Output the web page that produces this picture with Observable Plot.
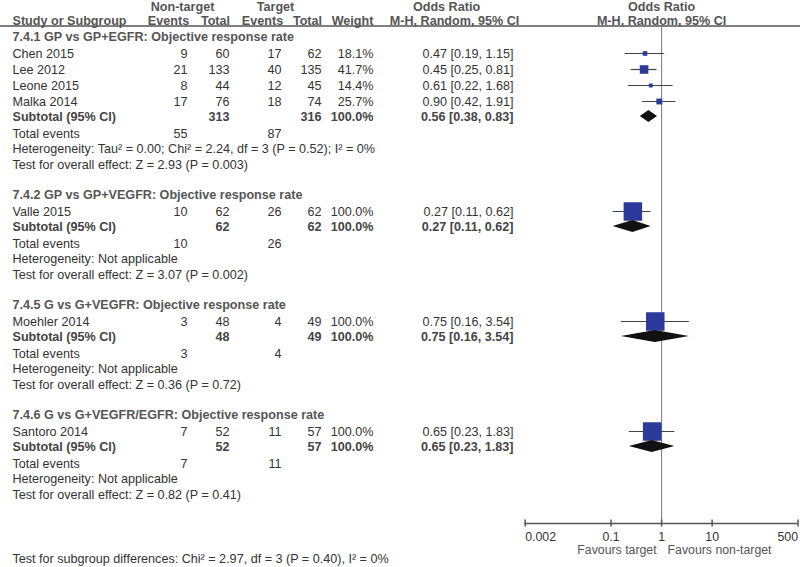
<!DOCTYPE html>
<html>
<head>
<meta charset="utf-8">
<script src="https://cdn.jsdelivr.net/npm/d3@7"></script>
<script src="https://cdn.jsdelivr.net/npm/@observablehq/plot@0.6"></script>
<style>
  html, body { margin: 0; padding: 0; background: #fff; }
</style>
</head>
<body>
<div id="chart"></div>
<script>
// ---------- Data ----------
const groupTitles = [
  "7.4.1 GP vs GP+EGFR: Objective response rate",
  "7.4.2 GP vs GP+VEGFR: Objective response rate",
  "7.4.5 G vs G+VEGFR: Objective response rate",
  "7.4.6 G vs G+VEGFR/EGFR: Objective response rate"
];
const studies    = ["Chen 2015", "Lee 2012", "Leone 2015", "Malka 2014", "Valle 2015", "Moehler 2014", "Santoro 2014"];
const studyGroup = [0, 0, 0, 0, 1, 2, 3];
const ntEvents   = [9, 21, 8, 17, 10, 3, 7];
const ntTotal    = [60, 133, 44, 76, 62, 48, 52];
const tEvents    = [17, 40, 12, 18, 26, 4, 11];
const tTotal     = [62, 135, 45, 74, 62, 49, 57];
const weights    = [18.1, 41.7, 14.4, 25.7, 100.0, 100.0, 100.0];
const orEst      = [0.47, 0.45, 0.61, 0.90, 0.27, 0.75, 0.65];
const orLo       = [0.19, 0.25, 0.22, 0.42, 0.11, 0.16, 0.23];
const orHi       = [1.15, 0.81, 1.68, 1.91, 0.62, 3.54, 1.83];

const subNtTotal = [313, 62, 48, 52];
const subTTotal  = [316, 62, 49, 57];
const subWeight  = [100.0, 100.0, 100.0, 100.0];
const subEst     = [0.56, 0.27, 0.75, 0.65];
const subLo      = [0.38, 0.11, 0.16, 0.23];
const subHi      = [0.83, 0.62, 3.54, 1.83];
const totNtEvents = [55, 10, 3, 7];
const totTEvents  = [87, 26, 4, 11];
const heterogeneity = [
  "Heterogeneity: Tau² = 0.00; Chi² = 2.24, df = 3 (P = 0.52); I² = 0%",
  "Heterogeneity: Not applicable",
  "Heterogeneity: Not applicable",
  "Heterogeneity: Not applicable"
];
const overallEffect = [
  "Test for overall effect: Z = 2.93 (P = 0.003)",
  "Test for overall effect: Z = 3.07 (P = 0.002)",
  "Test for overall effect: Z = 0.36 (P = 0.72)",
  "Test for overall effect: Z = 0.82 (P = 0.41)"
];
const subgroupTest = "Test for subgroup differences: Chi² = 2.97, df = 3 (P = 0.40), I² = 0%";
const tickValues = [0.002, 0.1, 1, 10, 500];
const tickLabels = ["0.002", "0.1", "1", "10", "500"];
const favoursLabels = ["Favours target", "Favours non-target"];
const headerTop = ["Non-target", "Target", "Odds Ratio", "Odds Ratio"];
const headerBottom = ["Study or Subgroup", "Events", "Total", "Events", "Total", "Weight", "M-H, Random, 95% CI", "M-H, Random, 95% CI"];

// ---------- Layout (row sequencing) ----------
const L = {
  firstTitle: 36, titleToStudy: 17, studyStep: 16, studyToSub: 15,
  subToTotal: 17, totalToHet: 15.5, hetToTest: 15.5, testToTitle: 30,
  headTop: 6, headBottom: 20, headLine: 25.5,
  axis: 523, tickLabel: 537, favours: 550, footer: 558
};
const fmt = v => v.toFixed(2);
const ci = (e, l, h) => `${fmt(e)} [${fmt(l)}, ${fmt(h)}]`;

const titleRows = [], studyRows = [], subRows = [], totalRows = [], hetRows = [], testRows = [];
let yy = L.firstTitle;
groupTitles.forEach((t, g) => {
  titleRows.push({y: yy, text: t});
  yy += L.titleToStudy;
  const idx = studies.map((s, i) => i).filter(i => studyGroup[i] === g);
  idx.forEach((i, k) => {
    studyRows.push({y: yy, name: studies[i], e1: ntEvents[i], n1: ntTotal[i], e2: tEvents[i], n2: tTotal[i],
      w: weights[i], est: orEst[i], lo: orLo[i], hi: orHi[i]});
    if (k < idx.length - 1) yy += L.studyStep;
  });
  yy += L.studyToSub;
  subRows.push({y: yy, g, n1: subNtTotal[g], n2: subTTotal[g], w: subWeight[g], est: subEst[g], lo: subLo[g], hi: subHi[g]});
  yy += L.subToTotal;
  totalRows.push({y: yy, e1: totNtEvents[g], e2: totTEvents[g]});
  yy += L.totalToHet;
  hetRows.push({y: yy, text: heterogeneity[g]});
  yy += L.hetToTest;
  testRows.push({y: yy, text: overallEffect[g]});
  yy += L.testToTitle;
});

const diamondPts = subRows.flatMap(d => [
  {g: d.g, x: d.lo, y1: d.y, y2: d.y},
  {g: d.g, x: d.est, y1: d.y - 6, y2: d.y + 6},
  {g: d.g, x: d.hi, y1: d.y, y2: d.y}
]);

// Column anchors
const C = {name: 12, e1: 187, n1: 229, e2: 281, n2: 321, w: 373, ci: 513};
const TXT = "#333", HEAD = "#555";

function col(data, text, dx, anchor, extra = {}) {
  return Plot.text(data, {y: "y", text, frameAnchor: "left", dx, textAnchor: anchor, fill: TXT, ...extra});
}
const bold = {fontWeight: "bold", fill: "#444"};
const squareSide = w => 0.17 * w + 1.5;
const axisFont = {fontSize: 12.3};

const chart = Plot.plot({
  width: 800,
  height: 567,
  margin: 0,
  style: {fontFamily: "'Liberation Sans', Arial, Helvetica, sans-serif", fontSize: "12.6px", background: "#fff"},
  x: {type: "log", domain: [0.002, 500], range: [524.7, 797.5], axis: null},
  y: {domain: [0, 567], range: [0, 567], axis: null},
  r: {type: "identity"},
  marks: [
    // header
    Plot.text([headerTop[0]], {y: () => L.headTop, text: d => d, frameAnchor: "left", dx: 182, textAnchor: "middle", fontWeight: "bold", fill: HEAD}),
    Plot.text([headerTop[1]], {y: () => L.headTop, text: d => d, frameAnchor: "left", dx: 275, textAnchor: "middle", fontWeight: "bold", fill: HEAD}),
    Plot.text([headerTop[2]], {y: () => L.headTop, text: d => d, frameAnchor: "left", dx: 446, textAnchor: "middle", fontWeight: "bold", fill: HEAD}),
    Plot.text([headerTop[3]], {y: () => L.headTop, text: d => d, x: () => 1, textAnchor: "middle", fontWeight: "bold", fill: HEAD}),
    Plot.text([headerBottom[0]], {y: () => L.headBottom, text: d => d, frameAnchor: "left", dx: 12, textAnchor: "start", fontWeight: "bold", fill: HEAD}),
    Plot.text([headerBottom[1]], {y: () => L.headBottom, text: d => d, frameAnchor: "left", dx: 168, textAnchor: "middle", fontWeight: "bold", fill: HEAD}),
    Plot.text([headerBottom[2]], {y: () => L.headBottom, text: d => d, frameAnchor: "left", dx: 215, textAnchor: "middle", fontWeight: "bold", fill: HEAD}),
    Plot.text([headerBottom[3]], {y: () => L.headBottom, text: d => d, frameAnchor: "left", dx: 262, textAnchor: "middle", fontWeight: "bold", fill: HEAD}),
    Plot.text([headerBottom[4]], {y: () => L.headBottom, text: d => d, frameAnchor: "left", dx: 307, textAnchor: "middle", fontWeight: "bold", fill: HEAD}),
    Plot.text([headerBottom[5]], {y: () => L.headBottom, text: d => d, frameAnchor: "left", dx: 352, textAnchor: "middle", fontWeight: "bold", fill: HEAD}),
    Plot.text([headerBottom[6]], {y: () => L.headBottom, text: d => d, frameAnchor: "left", dx: 454, textAnchor: "middle", fontWeight: "bold", fill: HEAD}),
    Plot.text([headerBottom[7]], {y: () => L.headBottom, text: d => d, x: () => 1, textAnchor: "middle", fontWeight: "bold", fill: HEAD}),
    Plot.ruleY([L.headLine], {stroke: "#555", strokeWidth: 1.5}),

    // reference line at OR = 1
    Plot.ruleX([1], {y1: L.headLine, y2: L.axis, stroke: "#777", strokeWidth: 1}),

    // group titles
    Plot.text(titleRows, {y: "y", text: "text", frameAnchor: "left", dx: 12, textAnchor: "start", fontWeight: "bold", fill: HEAD}),

    // study rows
    col(studyRows, "name", C.name, "start"),
    col(studyRows, d => d.e1, C.e1, "end"),
    col(studyRows, d => d.n1, C.n1, "end"),
    col(studyRows, d => d.e2, C.e2, "end"),
    col(studyRows, d => d.n2, C.n2, "end"),
    col(studyRows, d => d.w.toFixed(1) + "%", C.w, "end"),
    col(studyRows, d => ci(d.est, d.lo, d.hi), C.ci, "end"),

    // subtotal rows
    col(subRows, () => "Subtotal (95% CI)", C.name, "start", bold),
    col(subRows, d => d.n1, C.n1, "end", bold),
    col(subRows, d => d.n2, C.n2, "end", bold),
    col(subRows, d => d.w.toFixed(1) + "%", C.w, "end", bold),
    col(subRows, d => ci(d.est, d.lo, d.hi), C.ci, "end", bold),

    // total events, heterogeneity, tests
    col(totalRows, () => "Total events", C.name, "start"),
    col(totalRows, d => d.e1, C.e1, "end"),
    col(totalRows, d => d.e2, C.e2, "end"),
    col(hetRows, "text", C.name, "start"),
    col(testRows, "text", C.name, "start"),

    // forest: whiskers, squares, diamonds
    Plot.ruleY(studyRows, {y: "y", x1: "lo", x2: "hi", stroke: "#444", strokeWidth: 1.2}),
    Plot.dot(studyRows, {x: "est", y: "y", symbol: "square", r: d => squareSide(d.w) / Math.sqrt(Math.PI), fill: "#2B3A9B", stroke: null}),
    Plot.area(diamondPts, {x1: "x", y1: "y1", y2: "y2", z: "g", fill: "#111", curve: "linear"}),

    // axis
    Plot.ruleY([L.axis], {x1: tickValues[0], x2: tickValues[tickValues.length - 1], stroke: "#555", strokeWidth: 1.5}),
    Plot.ruleX(tickValues, {y1: L.axis - 3.5, y2: L.axis + 3.5, stroke: "#555", strokeWidth: 1.5}),
    Plot.text([0], {x: i => tickValues[i], y: () => L.tickLabel, text: i => tickLabels[i], textAnchor: "start", fill: TXT, ...axisFont}),
    Plot.text(d3.range(1, tickValues.length - 1), {x: i => tickValues[i], y: () => L.tickLabel, text: i => tickLabels[i], textAnchor: "middle", fill: TXT, ...axisFont}),
    Plot.text([tickValues.length - 1], {x: i => tickValues[i], y: () => L.tickLabel, text: i => tickLabels[i], textAnchor: "end", fill: TXT, ...axisFont}),
    Plot.text([favoursLabels[0]], {x: () => 1, y: () => L.favours, text: d => d, textAnchor: "end", dx: -5, fill: "#555", ...axisFont}),
    Plot.text([favoursLabels[1]], {x: () => 1, y: () => L.favours, text: d => d, textAnchor: "start", dx: 6, fill: "#555", ...axisFont}),

    // footer
    Plot.text([subgroupTest], {y: () => L.footer, text: d => d, frameAnchor: "left", dx: 12, textAnchor: "start", fill: TXT})
  ]
});
document.getElementById("chart").appendChild(chart);
</script>
</body>
</html>
